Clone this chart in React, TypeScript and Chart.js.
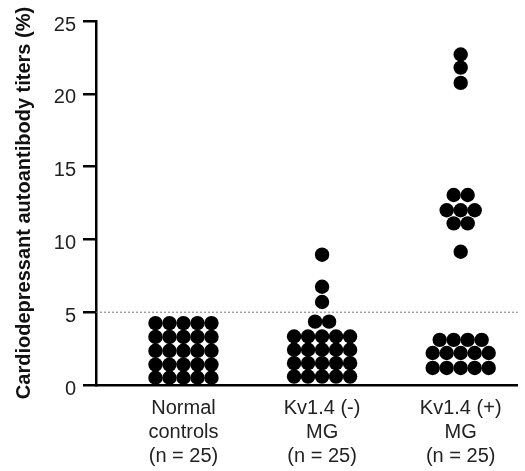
import React, { useEffect, useRef } from "react";
import { Chart, registerables } from "chart.js";

Chart.register(...registerables);

// Category labels (multi-line)
const categoryLabels: string[][] = [
  ["Normal", "controls", "(n = 25)"],
  ["Kv1.4 (-)", "MG", "(n = 25)"],
  ["Kv1.4 (+)", "MG", "(n = 25)"],
];

// Y values for each group (%)
const normalValues = [
  4.25, 4.25, 4.25, 4.25, 4.25,
  3.3, 3.3, 3.3, 3.3, 3.3,
  2.35, 2.35, 2.35, 2.35, 2.35,
  1.4, 1.4, 1.4, 1.4, 1.4,
  0.5, 0.5, 0.5, 0.5, 0.5,
];
// horizontal offsets of each dot within the swarm (in dot widths)
const normalOffsets = [
  -2, -1, 0, 1, 2,
  -2, -1, 0, 1, 2,
  -2, -1, 0, 1, 2,
  -2, -1, 0, 1, 2,
  -2, -1, 0, 1, 2,
];

const kvNegValues = [
  8.95,
  6.75,
  5.7,
  4.35, 4.35,
  3.33, 3.33, 3.33, 3.33, 3.33,
  2.42, 2.42, 2.42, 2.42, 2.42,
  1.5, 1.5, 1.5, 1.5, 1.5,
  0.58, 0.58, 0.58, 0.58, 0.58,
];
const kvNegOffsets = [
  0,
  0,
  0,
  -0.5, 0.5,
  -2, -1, 0, 1, 2,
  -2, -1, 0, 1, 2,
  -2, -1, 0, 1, 2,
  -2, -1, 0, 1, 2,
];

const kvPosValues = [
  22.7, 21.8, 20.75,
  13.05, 13.05,
  12.0, 12.0, 12.0,
  11.1, 11.1,
  9.15,
  3.1, 3.1, 3.1, 3.1,
  2.2, 2.2, 2.2, 2.2, 2.2,
  1.17, 1.17, 1.17, 1.17, 1.17,
];
const kvPosOffsets = [
  0, 0, 0,
  -0.5, 0.5,
  -1, 0, 1,
  -0.5, 0.5,
  0,
  -1.5, -0.5, 0.5, 1.5,
  -2, -1, 0, 1, 2,
  -2, -1, 0, 1, 2,
];

const thresholdValue = 5;
const yTicks = [0, 5, 10, 15, 20, 25];

const X_MIN = 0.369;
const X_MAX = 3.412;
const DOT_STEP = 0.101;

export default function App() {
  const canvasRef = useRef<HTMLCanvasElement | null>(null);

  useEffect(() => {
    const canvas = canvasRef.current;
    if (!canvas) return;

    const groups = [
      { values: normalValues, offsets: normalOffsets },
      { values: kvNegValues, offsets: kvNegOffsets },
      { values: kvPosValues, offsets: kvPosOffsets },
    ];
    const points: { x: number; y: number }[] = [];
    groups.forEach((g, gi) => {
      g.values.forEach((v, i) => {
        points.push({ x: gi + 1 + g.offsets[i] * DOT_STEP, y: v });
      });
    });

    const font = "'Liberation Sans', Arial, Helvetica, sans-serif";

    const chart = new Chart(canvas, {
      type: "scatter",
      data: {
        datasets: [
          {
            data: points,
            backgroundColor: "#000",
            borderWidth: 0,
            pointRadius: 7.2,
            pointHoverRadius: 7.2,
          },
          {
            data: [
              { x: X_MIN, y: thresholdValue },
              { x: X_MAX, y: thresholdValue },
            ],
            showLine: true,
            borderColor: "#777",
            borderWidth: 1,
            borderDash: [2, 2],
            pointRadius: 0,
          },
        ],
      },
      options: {
        responsive: false,
        animation: false,
        layout: { padding: { top: 21, left: 0, right: 0, bottom: 0 } },
        plugins: {
          legend: { display: false },
          tooltip: { enabled: false },
        },
        scales: {
          x: {
            type: "linear",
            min: X_MIN,
            max: X_MAX,
            afterBuildTicks: (scale: any) => {
              scale.ticks = [{ value: 1 }, { value: 2 }, { value: 3 }];
            },
            afterFit: (scale: any) => {
              scale.height = 86;
            },
            grid: { display: false, drawTicks: false },
            border: { display: true, color: "#000", width: 2.5 },
            ticks: {
              autoSkip: false,
              maxRotation: 0,
              padding: 11,
              color: "#222",
              font: { family: font, size: 20, lineHeight: 1.2 },
              callback: (value: any) => {
                const idx = Math.round(Number(value)) - 1;
                return categoryLabels[idx] || "";
              },
            },
          },
          y: {
            type: "linear",
            min: 0,
            max: 25,
            afterBuildTicks: (scale: any) => {
              scale.ticks = yTicks.map((v) => ({ value: v }));
            },
            afterFit: (scale: any) => {
              scale.width = 96;
            },
            grid: {
              drawOnChartArea: false,
              drawTicks: true,
              tickLength: 13,
              color: "#000",
              lineWidth: 2.5,
            },
            border: { display: true, color: "#000", width: 2.5 },
            ticks: {
              padding: 7,
              labelOffset: 4,
              color: "#222",
              font: { family: font, size: 20 },
            },
            title: {
              display: true,
              text: "Cardiodepressant autoantibody titers (%)",
              color: "#111",
              font: { family: font, size: 20, weight: "bold", lineHeight: 1.2 },
              padding: { top: 12, bottom: 0 },
            },
          },
        },
      },
    } as any);

    return () => {
      chart.destroy();
    };
  }, []);

  return (
    <div style={{ position: "fixed", left: 0, top: 0, width: 525, height: 471, background: "#fff" }}>
      <canvas ref={canvasRef} width={525} height={471} style={{ width: 525, height: 471, display: "block" }} />
    </div>
  );
}
